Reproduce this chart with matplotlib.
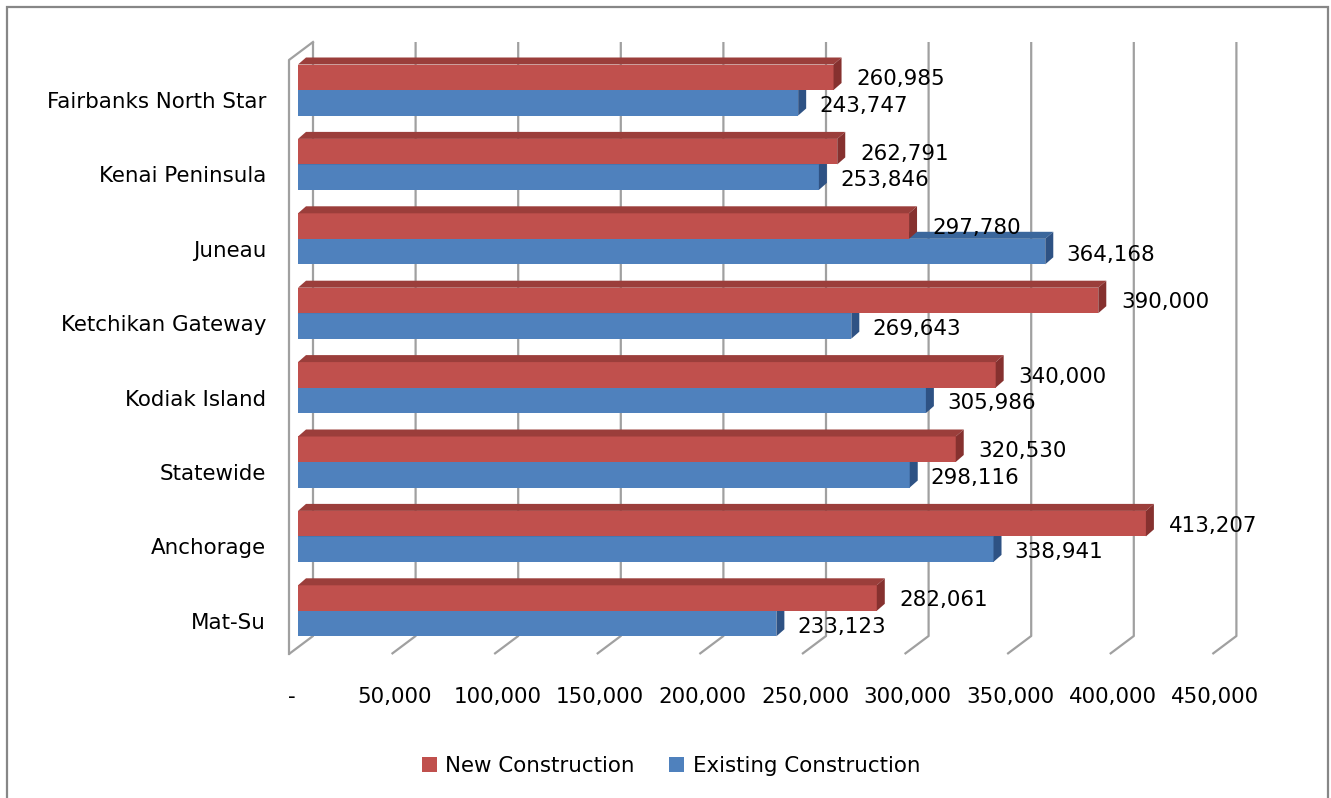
import matplotlib.pyplot as plt
from matplotlib.patches import Polygon, Patch, Rectangle

areas = ['Fairbanks North Star', 'Kenai Peninsula', 'Juneau', 'Ketchikan Gateway',
         'Kodiak Island', 'Statewide', 'Anchorage', 'Mat-Su']
new_construction = [260985, 262791, 297780, 390000, 340000, 320530, 413207, 282061]
existing_construction = [243747, 253846, 364168, 269643, 305986, 298116, 338941, 233123]
ticks = [0, 50000, 100000, 150000, 200000, 250000, 300000, 350000, 400000, 450000]

RED = '#C0504D'
RED_TOP = '#9B3E3B'
RED_SIDE = '#86312F'
BLUE = '#4F81BD'
BLUE_TOP = '#3B679C'
BLUE_SIDE = '#2E5284'
GRID = '#A0A0A0'
FONT = 'DejaVu Sans'
FS = 15.4

W, H = 1331, 798
fig = plt.figure(figsize=(W / 100, H / 100), dpi=100)
ax = fig.add_axes([0, 0, 1, 1])

# pixel -> data helpers (x: value axis, y: category index)
X0 = 298            # pixel where value 0 starts
PX = 102.6 / 50000  # pixels per unit value
Y0 = 90             # pixel of first group centre
PY = 74.4           # pixels per category
KX = 1 / PX
KY = 1 / PY
ax.set_xlim(-X0 * KX, (W - X0) * KX)
ax.set_ylim((H - Y0) * KY, -Y0 * KY)
ax.axis('off')

def py(p):
    return (p - Y0) * KY

# walls / gridlines: back plane shifted right, floor running to the front
back_dx = 15 * KX
front_dx = -24 * KX
top_y, back_bot, front_bot = py(42), py(636), py(654)
for v in ticks:
    xb = v + back_dx
    ax.plot([xb, xb, xb + front_dx], [top_y, back_bot, front_bot],
            color=GRID, lw=1.6, zorder=1, solid_capstyle='butt')
ax.plot([back_dx, -9 * KX, -9 * KX], [top_y, py(60), front_bot],
        color=GRID, lw=1.6, zorder=1)

# 3D bars
h = 25.5 * KY
ddx, ddy = 8 * KX, 7 * KY

def bar3d(y_top, value, front, top, side):
    y_bot = y_top + h
    ax.barh(y_top + h / 2, value, height=h, left=0, color=front,
            edgecolor='none', zorder=3)
    ax.add_patch(Polygon([(0, y_top), (value, y_top), (value + ddx, y_top - ddy),
                          (ddx, y_top - ddy)], closed=True, facecolor=top,
                         edgecolor='none', zorder=3))
    ax.add_patch(Polygon([(value, y_top), (value + ddx, y_top - ddy),
                          (value + ddx, y_bot - ddy), (value, y_bot)], closed=True,
                         facecolor=side, edgecolor='none', zorder=3))

for i in range(len(areas)):
    bar3d(i, existing_construction[i], BLUE, BLUE_TOP, BLUE_SIDE)
    bar3d(i - h, new_construction[i], RED, RED_TOP, RED_SIDE)

# value labels
for i in range(len(areas)):
    ax.text(new_construction[i] + 23 * KX, i - h / 2 + 2 * KY,
            f'{new_construction[i]:,}', fontsize=FS, family=FONT,
            ha='left', va='center', zorder=5)
    ax.text(existing_construction[i] + 21 * KX, i + h / 2 + 3 * KY,
            f'{existing_construction[i]:,}', fontsize=FS, family=FONT,
            ha='left', va='center', zorder=5)

# category labels
for i, name in enumerate(areas):
    ax.text(-32 * KX, i + 12 * KY, name, fontsize=FS, family=FONT,
            ha='right', va='center')

# value axis labels
for v in ticks:
    ax.text(v - 6 * KX, py(697), '-' if v == 0 else f'{v:,}', fontsize=FS,
            family=FONT, ha='center', va='center')

fig.legend(handles=[Patch(facecolor=RED, label='New Construction'),
                    Patch(facecolor=BLUE, label='Existing Construction')],
           loc='center', bbox_to_anchor=(671 / W, 1 - 766 / H), ncol=2,
           frameon=False, prop={'family': FONT, 'size': FS},
           handlelength=0.7, handleheight=0.7, handletextpad=0.4,
           columnspacing=1.6)

# chart border
fig.patches.append(Rectangle((7 / W, -0.02), (1328 - 7) / W, 1 - 7 / H + 0.02,
                             transform=fig.transFigure, fill=False,
                             edgecolor='#878787', lw=1.6))

fig.savefig('out.png', dpi=100)
